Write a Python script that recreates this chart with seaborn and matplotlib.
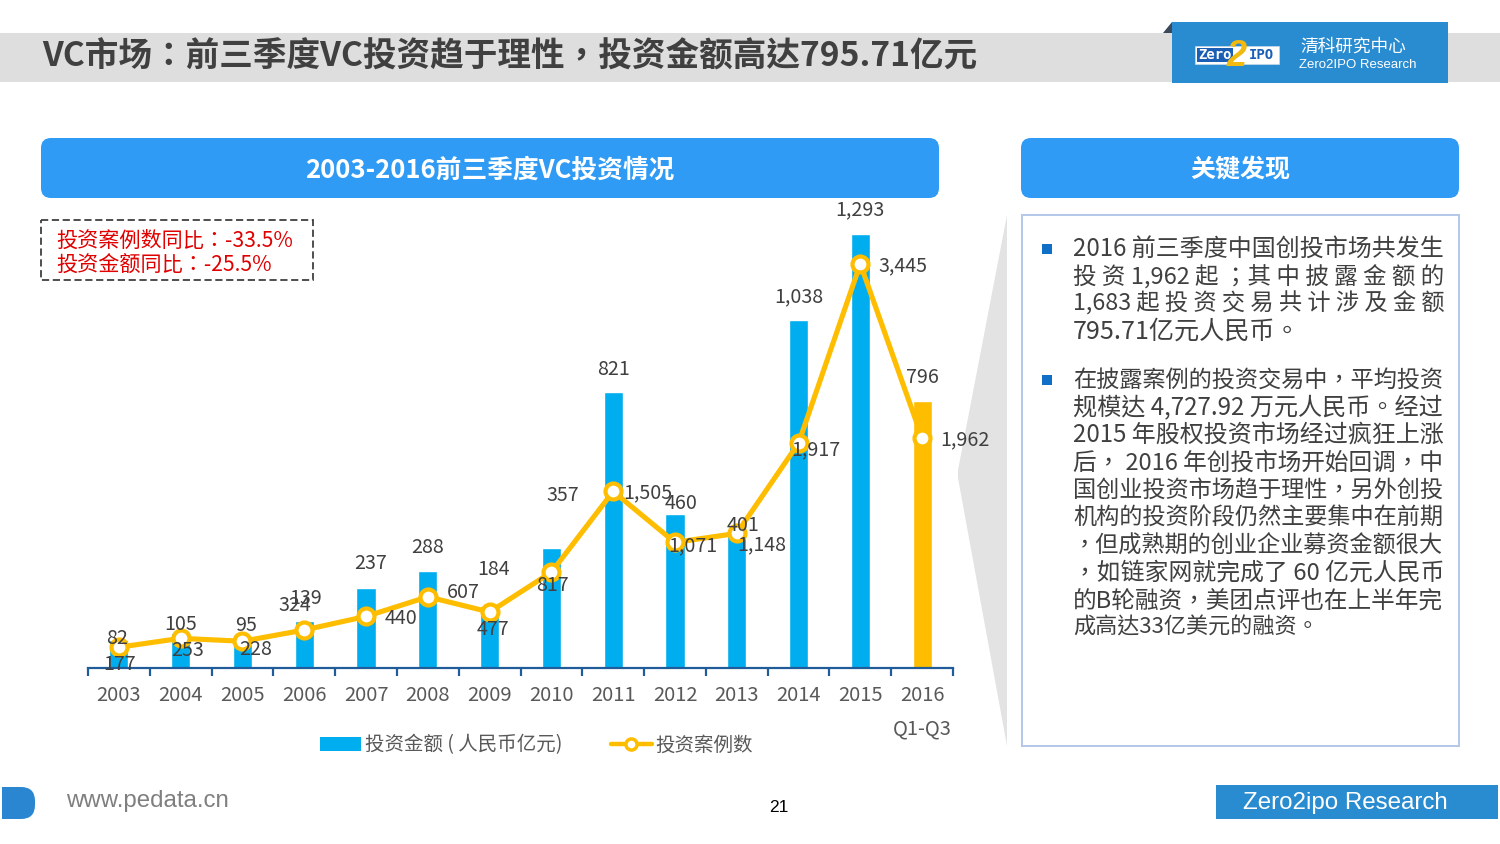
import numpy as np
import matplotlib
matplotlib.use("Agg")
import matplotlib.pyplot as plt
from matplotlib.patches import FancyBboxPatch, Patch, Polygon, Rectangle
from matplotlib.lines import Line2D
import seaborn as sns

sns.set_theme(style="white")
# TC cut because its punctuation sits centered in the cell like the original
plt.rcParams['font.family'] = ['Noto Sans CJK TC', 'DejaVu Sans']

BLUE_BAR = "#00ADEF"
ORANGE = "#FFBD00"
PANEL_BLUE = "#2F9BF4"
LOGO_BLUE = "#2A8CD0"
TEXT_GREY = "#404040"

years = ["2003", "2004", "2005", "2006", "2007", "2008", "2009",
         "2010", "2011", "2012", "2013", "2014", "2015", "2016"]
amount = [82, 105, 95, 139, 237, 288, 184, 357, 821, 460, 401, 1038, 1293, 796]
cases = [177, 253, 228, 324, 440, 607, 477, 817, 1505, 1071, 1148, 1917, 3445, 1962]

# label nudges in pixels, the labels in the original sit all over the place
amount_offsets = [(-2, 2), (0, 8), (4, 11), (1, 23), (5, 25), (0, 24), (4, 37),
                  (11, 53), (0, 23), (6, 10), (6, 8), (0, 23), (0, 24), (0, 23)]
cases_offsets = [(1, -17), (7, -12), (13, -8), (-9, 24), (35, -2), (35, 4), (3, -17),
                 (1, -13), (35, -1), (18, -3), (25, -11), (17, -7), (43, -2), (43, -2)]

title = "VC市场：前三季度VC投资趋于理性，投资金额高达795.71亿元"
chart_title = "2003-2016前三季度VC投资情况"
side_title = "关键发现"
note_lines = ["投资案例数同比：-33.5%", "投资金额同比：-25.5%"]
para1 = ["2016 前三季度中国创投市场共发生",
         "投 资 1,962 起 ；其 中 披 露 金 额 的",
         "1,683 起 投 资 交 易 共 计 涉 及 金 额",
         "795.71亿元人民币。"]
para2 = ["在披露案例的投资交易中，平均投资",
         "规模达 4,727.92 万元人民币。经过",
         "2015 年股权投资市场经过疯狂上涨",
         "后， 2016 年创投市场开始回调，中",
         "国创业投资市场趋于理性，另外创投",
         "机构的投资阶段仍然主要集中在前期",
         "，但成熟期的创业企业募资金额很大",
         "，如链家网就完成了 60 亿元人民币",
         "的B轮融资，美团点评也在上半年完",
         "成高达33亿美元的融资。"]
para1_y = [249, 277, 304, 332]
para2_y = [380, 408, 435, 463, 490, 518, 546, 573, 601, 628]
para1_w = [370, 370, 370, 227]
para2_w = [370, 370, 370, 370, 370, 370, 370, 370, 370, 245]

fig = plt.figure(figsize=(15, 8.44), dpi=100, facecolor="white")

# page furniture goes on a full size axes in pixel coords
bg = fig.add_axes([0, 0, 1, 1])
bg.set_xlim(0, 1500)
bg.set_ylim(844, 0)
bg.axis("off")


def rounded(x0, y0, x1, y1, color, r=10):
    bg.add_patch(FancyBboxPatch((x0 + r, y0 + r), x1 - x0 - 2 * r, y1 - y0 - 2 * r,
                                boxstyle="round,pad=%d,rounding_size=%d" % (r, r),
                                fc=color, ec="none"))


# top band
bg.add_patch(Rectangle((0, 33), 1500, 49, fc="#DEDEDE", ec="none"))
bg.text(42, 57, title, fontsize=24.2, fontweight="bold", color=TEXT_GREY, va="center")

# logo
bg.add_patch(Polygon([(1163, 33), (1172, 22), (1172, 33)], fc="#3A4A5C", ec="none"))
bg.add_patch(Rectangle((1172, 22), 276, 61, fc=LOGO_BLUE, ec="none"))
bg.add_patch(Rectangle((1195, 46), 84, 18, fc="white", ec="#C8D8E8", lw=0.5))
bg.add_patch(Rectangle((1197, 48), 36, 14, fc="#1A5FB4", ec="none"))
bg.text(1215, 55, "Zero", color="white", fontsize=10, fontweight="bold", ha="center", va="center",
        family="DejaVu Sans Mono")
bg.text(1261, 55, "IPO", color="#1A5FB4", fontsize=10, fontweight="bold", ha="center", va="center",
        family="DejaVu Sans Mono")
bg.text(1237, 57, "2", color="#F2B90F", fontsize=26, fontweight="bold", style="italic", ha="center",
        va="center", family="Liberation Sans")
bg.text(1353, 47, "清科研究中心", color="white", fontsize=12.7, ha="center", va="center")
bg.text(1358, 65, "Zero2IPO Research", color="white", fontsize=9.5, ha="center", va="center",
        family="Liberation Sans")

# panel headers
rounded(41, 138, 939, 198, PANEL_BLUE)
rounded(1021, 138, 1459, 198, PANEL_BLUE)
bg.text(490, 170, chart_title, color="white", fontsize=18.5, fontweight="bold", ha="center", va="center")
bg.text(1240, 170, side_title, color="white", fontsize=18, fontweight="bold", ha="center", va="center")

# note box
bg.add_patch(Rectangle((41, 220), 272, 60, fc="none", ec="#404040", lw=1.3, ls=(0, (4, 2))))
bg.text(56, 241, note_lines[0], color="#E00000", fontsize=15.2, va="center")
bg.text(56, 266, note_lines[1], color="#E00000", fontsize=15.2, va="center")

# key findings box and the grey callout wedge
bg.add_patch(Polygon([(1007, 215), (1007, 746), (958, 478), (958, 470)], fc="#E3E3E3", ec="none"))
bg.add_patch(Rectangle((1022, 215), 437, 531, fc="white", ec="#B4C7E7", lw=1.4))
for by in [249, 380]:
    bg.add_patch(Rectangle((1042, by - 5), 10, 10, fc="#0F6FC6", ec="none"))

# the box text is justified in the original, so fit each line to its width
renderer = fig.canvas.get_renderer()
for txt, y, w in zip(para1 + para2, para1_y + para2_y, para1_w + para2_w):
    t = bg.text(1073, y, txt, color=TEXT_GREY, fontsize=16.6, va="center")
    t.set_fontsize(16.6 * w / t.get_window_extent(renderer).width)

# footer
rounded(2, 787, 35, 819, "#2A86D0", r=14)
bg.add_patch(Rectangle((2, 787), 16, 32, fc="#2A86D0", ec="none"))
bg.text(66, 801, "www.pedata.cn", color="#7F7F7F", fontsize=17.3, va="center", family="Liberation Sans")
bg.text(779, 808, "21", color="black", fontsize=12.5, ha="center", va="center", family="Liberation Sans")
bg.add_patch(Rectangle((1216, 785), 282, 34, fc=LOGO_BLUE, ec="none"))
bg.text(1345, 803, "Zero2ipo Research", color="white", fontsize=17.4, ha="center", va="center",
        family="Liberation Sans")

# the chart itself, baseline at y=668
ax = fig.add_axes([88 / 1500, (844 - 668) / 844, 865 / 1500, 468 / 844])
ax.patch.set_visible(False)
bar_colors = [BLUE_BAR] * (len(years) - 1) + [ORANGE]
sns.barplot(x=years, y=amount, hue=years, palette=bar_colors, width=0.31, saturation=1,
            legend=False, ax=ax)
ax.set_xlim(-0.5, len(years) - 0.5)
ax.set_ylim(0, 1394)
ax.set_ylabel("")
ax.set_yticks([])
sns.despine(ax=ax, left=True)
ax.spines["bottom"].set_color("#1F5C99")
ax.spines["bottom"].set_linewidth(1.6)
ax.set_xticks(np.arange(-0.5, len(years)), minor=True)
ax.tick_params(axis="x", which="minor", length=5.5, width=1.6, color="#1F5C99", bottom=True)
ax.tick_params(axis="x", which="major", length=0, labelsize=14.5, labelcolor="#595959", pad=12.5)

ax2 = ax.twinx()
positions = np.arange(len(years))
sns.lineplot(x=positions, y=cases, ax=ax2, color=ORANGE, lw=3.7, marker="o", ms=11.5,
             mfc="white", mec=ORANGE, mew=3, sort=False, errorbar=None)
ax2.set_ylim(0, 3990)
ax2.set_yticks([])
ax2.set_ylabel("")
sns.despine(ax=ax2, left=True, right=True, bottom=True)

for i, v in enumerate(amount):
    ax2.annotate(f"{v:,}", xy=(i, v), xycoords=ax.transData, xytext=amount_offsets[i],
                 textcoords="offset pixels", ha="center", va="center", fontsize=14.2, color=TEXT_GREY)
for i, v in enumerate(cases):
    ax2.annotate(f"{v:,}", xy=(i, v), xytext=cases_offsets[i], textcoords="offset pixels",
                 ha="center", va="center", fontsize=14.2, color=TEXT_GREY)

bg.text(922, 729, "Q1-Q3", color="#595959", fontsize=14.5, ha="center", va="center")

handles = [Patch(fc=BLUE_BAR, ec="none", label="投资金额 ( 人民币亿元)"),
           Line2D([], [], color=ORANGE, lw=3.2, marker="o", ms=8, mfc="white", mec=ORANGE, mew=2.5,
                  label="投资案例数")]
ax2.legend(handles=handles, loc="center", ncol=2, frameon=False, fontsize=14,
           bbox_to_anchor=(536.5 / 1500, 1 - 745 / 844), bbox_transform=fig.transFigure,
           handlelength=2.1, handleheight=0.7, handletextpad=0.2, columnspacing=2.5,
           labelcolor="#595959")

fig.savefig("out.png", dpi=100)
